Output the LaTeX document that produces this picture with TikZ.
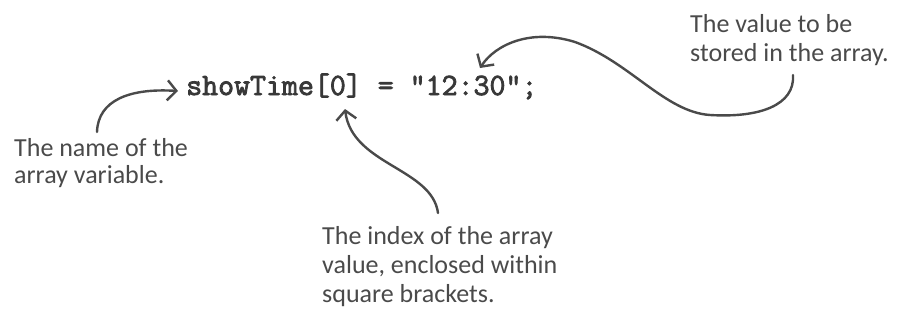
\documentclass[tikz,border=0pt]{standalone}
\usepackage{fontspec}
\setmainfont{Carlito}
\newfontfamily\codefont[FakeBold=2.6]{Latin Modern Mono}
\usetikzlibrary{arrows.meta}
\definecolor{ink}{HTML}{4A4A4A}
\definecolor{codeink}{HTML}{383838}
\tikzset{
  note/.style={align=left, inner sep=0pt, anchor=north west, text=ink,
    font=\fontsize{26}{29}\selectfont},
  codeline/.style={inner sep=0pt, anchor=base west, text=codeink,
    font=\codefont\fontsize{31}{31}\selectfont},
  callout/.style={draw=ink, line width=2.4pt, line cap=round,
    -{Straight Barb[length=9pt,width=20pt,line width=2.4pt]}},
}
\begin{document}
\begin{tikzpicture}[x=1pt,y=-1pt]
\useasboundingbox (0,0) rectangle (899,322);
\node[codeline] (code) at (186,95) {showTime[0] = "12:30";};
\node[note, font=\fontsize{26}{27}\selectfont] (name) at (14,138) {The name of the\\array variable.};
\node[note] (value) at (690,14) {The value to be\\stored in the array.};
\node[note] (index) at (322,226) {The index of the array\\value, enclosed within\\square brackets.};
\coordinate (nameStart) at (97,132);
\coordinate (nameTip) at (178,91);
\coordinate (indexStart) at (438,213);
\coordinate (indexTip) at (345,109);
\coordinate (valueStart) at (793,75);
\coordinate (valueTip) at (480,68);
\draw[callout] (nameStart) .. controls (98,100) and (130,88) .. (nameTip);
\draw[callout] (indexStart) .. controls (432,168) and (352,165) .. (indexTip);
\draw[callout] (valueStart) .. controls (795,105) and (760,118) .. (710,115)
  .. controls (665,112) and (630,62) .. (575,42)
  .. controls (530,28) and (495,45) .. (valueTip);
\end{tikzpicture}
\end{document}
